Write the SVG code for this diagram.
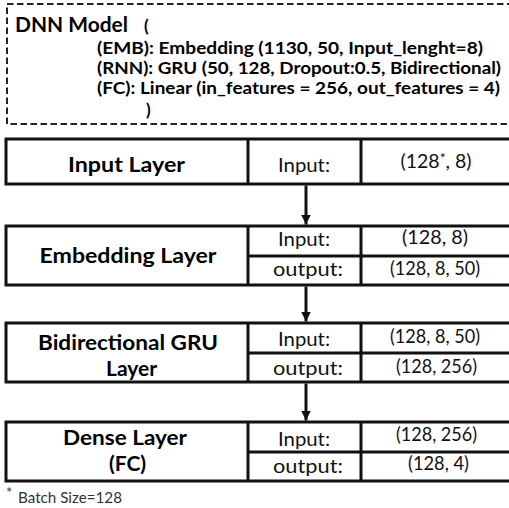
<svg xmlns="http://www.w3.org/2000/svg" width="509" height="508" viewBox="0 0 509 508">
<style>
  .bx { fill: #fff; stroke: #111; stroke-width: 3; }
  .dv { stroke: #111; stroke-width: 3; }
  .dash { fill: none; stroke: #222; stroke-width: 2; stroke-dasharray: 6.5 3.5; }
  .hd { font-family: Lato, "Open Sans", "Liberation Sans", sans-serif; font-weight: bold; fill: #000; }
  .lb { font-family: Lato, "Open Sans", "Liberation Sans", sans-serif; font-weight: bold; font-size: 21px; fill: #000; text-anchor: middle; }
  .cl { font-family: Lato, "Open Sans", "Liberation Sans", sans-serif; font-size: 19.5px; fill: #111; text-anchor: middle; }
  .fn { font-family: Lato, "Open Sans", "Liberation Sans", sans-serif; font-size: 15px; fill: #333; }
  .conn { stroke: #111; stroke-width: 3; fill: none; }
</style>
<defs>
  <marker id="ah" markerUnits="userSpaceOnUse" markerWidth="12" markerHeight="12" refX="10" refY="5" orient="auto">
    <path d="M0,0 L10,5 L0,10 Z" fill="#111"/>
  </marker>
</defs>
<rect width="509" height="508" fill="#fff"/>

<g id="model-def">
  <rect class="dash" x="7" y="4" width="520" height="120"/>
  <text class="hd" x="15" y="32" font-size="21" textLength="113" lengthAdjust="spacingAndGlyphs">DNN Model</text>
  <text class="hd" x="144" y="32" font-size="17">(</text>
  <text class="hd" x="97" y="54" font-size="17" textLength="386" lengthAdjust="spacingAndGlyphs">(EMB): Embedding (1130, 50,  Input_lenght=8)</text>
  <text class="hd" x="97" y="74" font-size="17" textLength="404" lengthAdjust="spacingAndGlyphs">(RNN): GRU (50, 128, Dropout:0.5, Bidirectional)</text>
  <text class="hd" x="97" y="94" font-size="17" textLength="403" lengthAdjust="spacingAndGlyphs">(FC): Linear (in_features = 256, out_features = 4)</text>
  <text class="hd" x="146" y="116" font-size="17">)</text>
</g>

<g id="input-layer">
  <rect class="bx" x="6" y="139" width="520" height="45"/>
  <line class="dv" x1="248" y1="139" x2="248" y2="184"/>
  <line class="dv" x1="361" y1="139" x2="361" y2="184"/>
  <text class="lb" x="126.5" y="172" textLength="117" lengthAdjust="spacingAndGlyphs">Input Layer</text>
  <text class="cl" x="304" y="172" textLength="52" lengthAdjust="spacingAndGlyphs">Input:</text>
  <text class="cl" x="436" y="168">(128<tspan font-size="14" dy="-5">*</tspan><tspan dy="5">, 8)</tspan></text>
</g>

<g id="embedding-layer">
  <rect class="bx" x="6" y="226" width="520" height="59"/>
  <line class="dv" x1="248" y1="226" x2="248" y2="285"/>
  <line class="dv" x1="361" y1="226" x2="361" y2="285"/>
  <line class="dv" x1="248" y1="256" x2="526" y2="256"/>
  <text class="lb" x="128" y="263" textLength="177" lengthAdjust="spacingAndGlyphs">Embedding Layer</text>
  <text class="cl" x="304" y="246" textLength="52" lengthAdjust="spacingAndGlyphs">Input:</text>
  <text class="cl" x="308" y="276" textLength="70" lengthAdjust="spacingAndGlyphs">output:</text>
  <text class="cl" x="435" y="244" textLength="66" lengthAdjust="spacingAndGlyphs">(128, 8)</text>
  <text class="cl" x="435" y="275" textLength="90" lengthAdjust="spacingAndGlyphs">(128, 8, 50)</text>
</g>

<g id="gru-layer">
  <rect class="bx" x="6" y="323" width="520" height="59"/>
  <line class="dv" x1="248" y1="323" x2="248" y2="382"/>
  <line class="dv" x1="361" y1="323" x2="361" y2="382"/>
  <line class="dv" x1="248" y1="353" x2="526" y2="353"/>
  <text class="lb" x="128" y="350" textLength="180" lengthAdjust="spacingAndGlyphs">Bidirectional GRU</text>
  <text class="lb" x="131.5" y="376">Layer</text>
  <text class="cl" x="304" y="346" textLength="52" lengthAdjust="spacingAndGlyphs">Input:</text>
  <text class="cl" x="308" y="375" textLength="70" lengthAdjust="spacingAndGlyphs">output:</text>
  <text class="cl" x="435" y="343" textLength="90" lengthAdjust="spacingAndGlyphs">(128, 8, 50)</text>
  <text class="cl" x="436.5" y="373" textLength="81" lengthAdjust="spacingAndGlyphs">(128, 256)</text>
</g>

<g id="dense-layer">
  <rect class="bx" x="6" y="422" width="520" height="59"/>
  <line class="dv" x1="248" y1="422" x2="248" y2="481"/>
  <line class="dv" x1="361" y1="422" x2="361" y2="481"/>
  <line class="dv" x1="248" y1="452" x2="526" y2="452"/>
  <text class="lb" x="125" y="445" textLength="124" lengthAdjust="spacingAndGlyphs">Dense Layer</text>
  <text class="lb" x="127.5" y="471">(FC)</text>
  <text class="cl" x="304" y="446" textLength="52" lengthAdjust="spacingAndGlyphs">Input:</text>
  <text class="cl" x="308" y="473" textLength="70" lengthAdjust="spacingAndGlyphs">output:</text>
  <text class="cl" x="436.5" y="441" textLength="81" lengthAdjust="spacingAndGlyphs">(128, 256)</text>
  <text class="cl" x="438.5" y="470" textLength="61" lengthAdjust="spacingAndGlyphs">(128, 4)</text>
</g>

<g id="connectors">
  <line class="conn" x1="306" y1="185.5" x2="306" y2="224.5" marker-end="url(#ah)"/>
  <line class="conn" x1="306" y1="286.5" x2="306" y2="321.5" marker-end="url(#ah)"/>
  <line class="conn" x1="306" y1="383.5" x2="306" y2="420.5" marker-end="url(#ah)"/>
</g>

<g id="footnote">
  <text class="fn" x="6" y="498" font-size="13">*</text>
  <text class="fn" x="18" y="503" textLength="104" lengthAdjust="spacingAndGlyphs">Batch Size=128</text>
</g>
</svg>
